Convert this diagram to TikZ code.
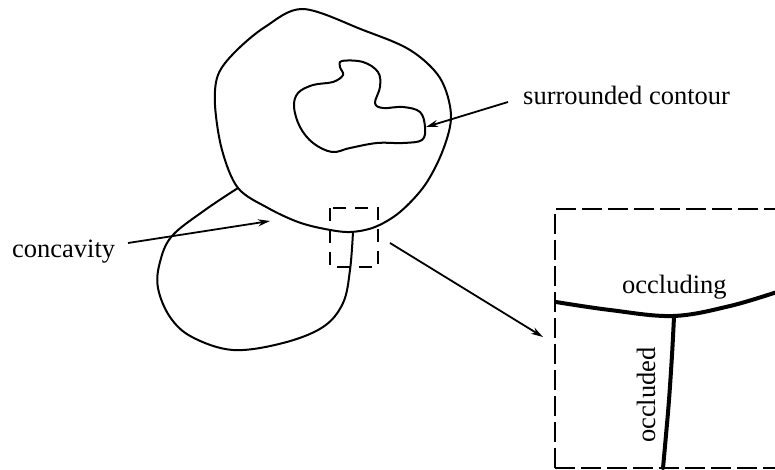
\documentclass[tikz,border=0pt]{standalone}
\usepackage{fontspec}
\setmainfont{Liberation Serif}
\usetikzlibrary{arrows.meta}
\tikzset{
  contour/.style={line width=2pt, line join=round, line cap=round},
  edgeline/.style={line width=4pt, line cap=round, line join=round},
  pointer/.style={line width=1.8pt, -{Stealth[length=12pt,width=7pt]}},
  smallbox/.style={line width=1.8pt, dash pattern=on 13pt off 9pt},
  bigbox/.style={line width=2.4pt, dash pattern=on 20pt off 6pt},
  lab/.style={inner sep=0pt, font=\fontsize{26.5}{30}\selectfont}
}
\begin{document}
\begin{tikzpicture}[x=1pt, y=-1pt]
\useasboundingbox (0,0) rectangle (775,470);

% outer (occluding) contour
\draw[contour] plot[smooth cycle, tension=0.55] coordinates {
  (303,9) (363,30) (410,50) (440,78) (451,115) (443,150) (425,185)
  (400,212) (375,227) (350,232) (325,229) (298,222) (268,208) (238,188)
  (222,150) (215,105) (218,75) (235,52) (265,27)};

% lower (occluded) contour, ending at the T-junction
\draw[contour] plot[smooth, tension=0.6] coordinates {
  (238,188) (205,210) (172,236) (160,262) (158,288) (170,317) (192,337)
  (233,350) (283,343) (323,327) (343,303) (350,270) (353,232)};

% surrounded contour
\draw[contour] plot[smooth cycle, tension=0.6] coordinates {
  (342,61) (363,62) (378,72) (380,87) (375,103) (383,108) (403,107)
  (420,112) (425,127) (422,140) (403,143) (377,143) (350,148) (332,152)
  (313,143) (300,127) (294,107) (298,93) (313,85) (333,82) (343,75) (340,67)};

% small dashed window around the junction
\draw[smallbox] (330,208) rectangle (378,267);

% enlarged view of the junction
\draw[bigbox] (555,468) -- (555,209) -- (780,209);
\draw[bigbox] (555,468) -- (780,468);
\draw[edgeline] plot[smooth, tension=0.6] coordinates {
  (556,302) (610,310) (673,316) (730,306) (780,291)};
\draw[edgeline] plot[smooth, tension=0.6] coordinates {
  (674,317) (672,355) (669,400) (666,435) (663,468)};

% labels
\node[lab, anchor=base west] (surr) at (523,105) {surrounded contour};
\node[lab, anchor=base west] (conc) at (12,257) {concavity};
\node[lab, anchor=base west] (occg) at (622,293) {occluding};
\node[lab, anchor=base west, rotate=90] (occd) at (655,443) {occluded};

% pointers
\coordinate (surrS) at (508,102);
\coordinate (surrT) at (426,127);
\coordinate (concS) at (128,243);
\coordinate (concT) at (270,221);
\coordinate (zoomS) at (390,243);
\coordinate (zoomT) at (543,337);
\draw[pointer] (surrS) -- (surrT);
\draw[pointer] (concS) -- (concT);
\draw[pointer] (zoomS) -- (zoomT);
\end{tikzpicture}
\end{document}
